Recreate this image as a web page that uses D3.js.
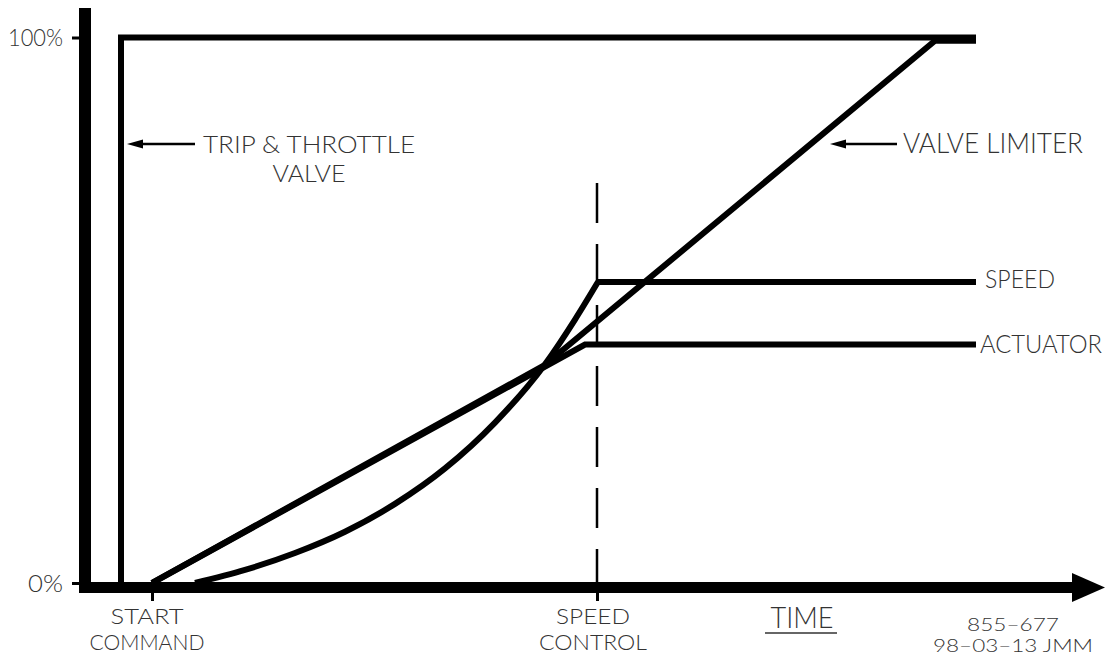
<!DOCTYPE html>
<html>
<head>
<meta charset="utf-8">
<script src="https://cdn.jsdelivr.net/npm/d3@7"></script>
<style>
  html, body { margin: 0; padding: 0; background: #fff; }
  svg { display: block; }
  text { font-family: Lato, "DejaVu Sans", sans-serif; font-weight: 300; fill: #333; }
</style>
</head>
<body>
<svg id="chart" width="1111" height="656"></svg>
<script>
// ---------- data ----------
const yTicks = [0, 100];
const yTickLabels = ["0%", "100%"];
const eventTimes = [67, 512];
const eventLabels = [["START", "COMMAND"], ["SPEED", "CONTROL"]];

const tripTime = [36, 36, 891];
const tripValue = [0, 100, 100];

const limiterTime = [67, 460, 850, 891];
const limiterValue = [0, 40.0, 99.4, 99.4];

const actuatorTime = [67, 500, 891];
const actuatorValue = [0, 43.7, 43.7];

const speedRampTime = [110, 160, 210, 260, 310, 360, 410, 460, 490, 513];
const speedRampValue = [0, 2.4, 5.5, 9.4, 14.5, 21.0, 29.4, 40.1, 48.3, 55.2];
const speedHoldTime = [513, 891];
const speedHoldValue = [55.2, 55.2];

// ---------- scales ----------
const svg = d3.select("#chart");
const x = d3.scaleLinear().domain([0, 1000]).range([85, 1085]);
const y = d3.scaleLinear().domain([0, 100]).range([583, 37.5]);

const zip = (ts, vs) => ts.map((t, i) => [t, vs[i]]);
const lineLin = d3.line().x(d => x(d[0])).y(d => y(d[1]));
const lineCurve = d3.line().x(d => x(d[0])).y(d => y(d[1])).curve(d3.curveMonotoneX);

// ---------- y axis ticks ----------
const yAxis = d3.axisLeft(y).tickValues(yTicks)
  .tickFormat((d, i) => yTickLabels[i]).tickSize(13).tickPadding(9);
const gy = svg.append("g").attr("transform", `translate(${x(0)},0)`).call(yAxis);
gy.select(".domain").remove();
gy.selectAll(".tick line").attr("stroke", "#000").attr("stroke-width", 3);
gy.selectAll(".tick text").style("font-size", "23px").attr("dy", "0.36em")
  .attr("font-family", "Lato, 'DejaVu Sans', sans-serif").attr("fill", "#333")
  .each(function(d, i) { d3.select(this).attr("textLength", i === 1 ? 55 : 35).attr("lengthAdjust", "spacingAndGlyphs"); });

// ---------- x axis event ticks ----------
const xAxis = d3.axisBottom(x).tickValues(eventTimes).tickFormat("").tickSize(18);
const gx = svg.append("g").attr("transform", `translate(0,${y(0)})`).call(xAxis);
gx.select(".domain").remove();
gx.selectAll(".tick line").attr("stroke", "#000").attr("stroke-width", 3);

// speed control dashed line
svg.append("line")
  .attr("x1", x(eventTimes[1])).attr("x2", x(eventTimes[1]))
  .attr("y1", 183).attr("y2", y(0))
  .attr("stroke", "#000").attr("stroke-width", 2.5)
  .attr("stroke-dasharray", "40,21");

// multi-line label helper
function multiLabel(lines, cx, baselines, size, widths) {
  lines.forEach((s, j) => {
    svg.append("text").attr("text-anchor", "middle").style("font-size", size + "px")
      .attr("x", cx).attr("y", baselines[j])
      .attr("textLength", widths[j]).attr("lengthAdjust", "spacingAndGlyphs").text(s);
  });
}

// event labels
const evW = [[73, 115], [74, 108]];
eventTimes.forEach((t, i) => {
  multiLabel(eventLabels[i], x(t) - 5 + (i === 1 ? 1 : 0), [624, 649.5], 21, evW[i]);
});

// ---------- traces ----------
const traceStyle = sel => sel.attr("fill", "none").attr("stroke", "#000")
  .attr("stroke-width", 6).attr("stroke-linejoin", "miter");

svg.append("path").datum(zip(tripTime, tripValue)).attr("d", lineLin).call(traceStyle);
svg.append("path").datum(zip(limiterTime, limiterValue)).attr("d", lineLin).call(traceStyle);
svg.append("path").datum(zip(actuatorTime, actuatorValue)).attr("d", lineLin).call(traceStyle);
svg.append("path").datum(zip(speedRampTime, speedRampValue)).attr("d", lineCurve).call(traceStyle);
svg.append("path").datum(zip(speedHoldTime, speedHoldValue)).attr("d", lineLin).call(traceStyle);

// ---------- main axes (thick) ----------
svg.append("line").attr("x1", x(0)).attr("x2", x(0)).attr("y1", 8).attr("y2", 593)
  .attr("stroke", "#000").attr("stroke-width", 12);
svg.append("line").attr("x1", 79).attr("x2", 1075).attr("y1", 587.5).attr("y2", 587.5)
  .attr("stroke", "#000").attr("stroke-width", 11);
svg.append("path").attr("d", "M1072,573 L1105,587.5 L1072,602 Z").attr("fill", "#000");

// ---------- annotations ----------
function arrow(tipX, tipY, tailX) {
  svg.append("line").attr("x1", tipX + 10).attr("x2", tailX).attr("y1", tipY).attr("y2", tipY)
    .attr("stroke", "#000").attr("stroke-width", 2.5);
  svg.append("path").attr("d", `M${tipX},${tipY} L${tipX + 16},${tipY - 4.5} L${tipX + 16},${tipY + 4.5} Z`)
    .attr("fill", "#000");
}
arrow(127, 144, 195);
arrow(830, 144, 897);

function label(s, cx, by, size, w, anchor) {
  svg.append("text").attr("x", cx).attr("y", by).attr("text-anchor", anchor || "middle")
    .style("font-size", size + "px").attr("textLength", w).attr("lengthAdjust", "spacingAndGlyphs").text(s);
}
multiLabel(["TRIP & THROTTLE", "VALVE"], 309, [153, 181.5], 23.5, [212, 73]);
label("VALVE LIMITER", 903, 153, 27, 180, "start");
label("SPEED", 985, 288, 25, 70, "start");
label("ACTUATOR", 980, 353, 25, 122, "start");
label("TIME", 802, 628, 29, 63);
svg.append("line").attr("x1", 765).attr("x2", 837).attr("y1", 633).attr("y2", 633)
  .attr("stroke", "#333").attr("stroke-width", 1.5);
multiLabel(["855\u2013677", "98\u201303\u201313 JMM"], 1013, [630.5, 652.3], 18, [92, 160]);
</script>
</body>
</html>
